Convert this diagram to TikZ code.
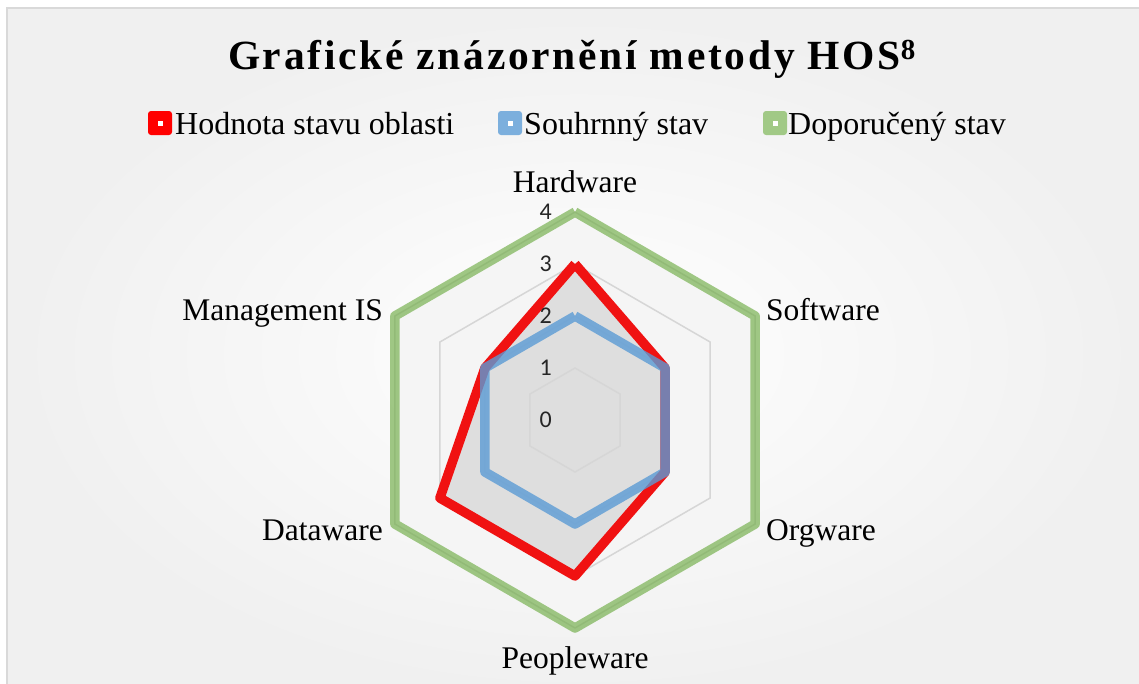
\documentclass[tikz,border=0pt]{standalone}
\usepackage{fontspec}
\setmainfont{Liberation Serif}
\newfontfamily\numfont{Carlito}
\newfontfamily\titlefont{Liberation Serif}[LetterSpace=6.5]
\usetikzlibrary{calc}
\definecolor{redline}{RGB}{240,18,18}
\definecolor{blueline}{RGB}{91,155,213}
\definecolor{greenline}{RGB}{112,173,71}
\definecolor{outerfill}{RGB}{245,245,245}
\definecolor{innerfill}{RGB}{222,222,222}
\definecolor{gridc}{RGB}{214,214,214}
\begin{document}
\begin{tikzpicture}[x=1pt,y=-1pt,
  lbl/.style={font=\fontsize{31.5}{36}\selectfont, inner sep=0pt},
  num/.style={font=\numfont\fontsize{24}{28}\selectfont, text=black!85, inner sep=0pt, anchor=east},
  gridline/.style={draw=gridc, line width=1.5pt},
  series/.style={line width=9.5pt, line join=round, line cap=butt},
  mk/.style={minimum size=24pt, rounded corners=3pt, inner sep=0pt},
  legtext/.style={font=\fontsize{32}{36}\selectfont, inner sep=0pt, anchor=base west}
]
\useasboundingbox (0,0) rectangle (1139,683);
\fill[white] (0,0) rectangle (1139,683);
\shade[inner color=white, outer color=black!6] (7,8) rectangle (1150,700);
\draw[black!15, line width=1.5pt] (1150,8) -- (7,8) -- (7,700);

% title
\node[font=\titlefont\bfseries\fontsize{41.5}{48}\selectfont, inner sep=0pt, anchor=base] (title) at (572,69) {Grafické znázornění metody HOS\textsuperscript{8}};

% legend
\node[mk, fill=red] (m1) at (160,123) {};
\fill[white] ($(m1)+(-2.5,-2.5)$) rectangle ($(m1)+(2.5,2.5)$);
\node[legtext] (t1) at (175,134) {Hodnota stavu oblasti};
\node[mk, fill=blueline!80!white] (m2) at (510,123) {};
\fill[white] ($(m2)+(-2.5,-2.5)$) rectangle ($(m2)+(2.5,2.5)$);
\node[legtext] (t2) at (524,134) {Souhrnný stav};
\node[mk, fill=greenline!66!white] (m3) at (775,123) {};
\fill[white] ($(m3)+(-2.5,-2.5)$) rectangle ($(m3)+(2.5,2.5)$);
\node[legtext] (t3) at (788,134) {Doporučený stav};

% radar coordinates
\coordinate (c) at (575,420);
\foreach \i/\n in {0/hw,1/sw,2/ow,3/pw,4/dw,5/mg}{
  \foreach \v in {1,2,3,4}{
    \coordinate (\n\v) at ($(c)+({90-60*\i}:{\v*52pt})$);
  }
}

% fills
\fill[outerfill] (hw4) -- (sw4) -- (ow4) -- (pw4) -- (dw4) -- (mg4) -- cycle;
\fill[innerfill] (hw3) -- (sw2) -- (ow2) -- (pw3) -- (dw3) -- (mg2) -- cycle;

% grid
\foreach \v in {1,2,3,4}{
  \draw[gridline] (hw\v) -- (sw\v) -- (ow\v) -- (pw\v) -- (dw\v) -- (mg\v) -- cycle;
}

% series
\draw[series, greenline, draw opacity=0.66] (hw4) -- (sw4) -- (ow4) -- (pw4) -- (dw4) -- (mg4) -- (hw4);
\draw[series, redline] (hw3) -- (sw2) -- (ow2) -- (pw3) -- (dw3) -- (mg2) -- (hw3);
\draw[series, blueline, draw opacity=0.8] (hw2) -- (sw2) -- (ow2) -- (pw2) -- (dw2) -- (mg2) -- (hw2);

% axis numbers
\foreach \v in {0,1,2,3,4}{
  \node[num] (n\v) at (552,{420-52*\v}) {\v};
}

% axis labels
\node[lbl, anchor=base] (lhw) at (575,192) {Hardware};
\node[lbl, anchor=base west] (lsw) at (766,320) {Software};
\node[lbl, anchor=base west] (low) at (766,540) {Orgware};
\node[lbl, anchor=base] (lpw) at (575,668) {Peopleware};
\node[lbl, anchor=base east] (ldw) at (383,540) {Dataware};
\node[lbl, anchor=base east] (lmg) at (383,320) {Management IS};
\end{tikzpicture}
\end{document}
